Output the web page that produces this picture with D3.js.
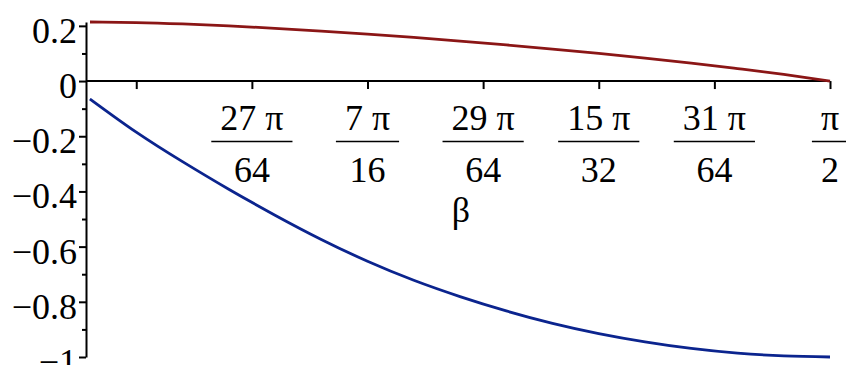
<!DOCTYPE html>
<html>
<head>
<meta charset="utf-8">
<script src="https://cdn.jsdelivr.net/npm/d3@7"></script>
<style>
  body { margin: 0; background: #fff; }
  svg { display: block; }
  svg text { font-family: "Liberation Serif", "Times New Roman", Times, serif; fill: #000; }
</style>
</head>
<body>
<script>
// beta, in units of pi/64 (from 2pi/5 up to pi/2)
const betaSteps = [25.6, 26.0, 26.4, 26.8, 27.2, 27.6, 28.0, 28.4, 28.8,
                   29.2, 29.6, 30.0, 30.4, 30.8, 31.2, 31.6, 32.0];
// upper curve (dark red)
const redValues = [0.214, 0.212, 0.207, 0.200, 0.191, 0.181, 0.170, 0.158, 0.145,
                   0.131, 0.116, 0.100, 0.083, 0.065, 0.045, 0.024, 0.0];
// lower curve (dark blue)
const blueValues = [-0.065, -0.185, -0.292, -0.392, -0.486, -0.574, -0.653, -0.722, -0.781,
                    -0.833, -0.878, -0.915, -0.945, -0.969, -0.986, -0.996, -1.0];

const yTicks = [-1, -0.8, -0.6, -0.4, -0.2, 0, 0.2];
const yMinorTicks = [-0.9, -0.7, -0.5, -0.3, -0.1, 0.1];
const xTickSteps = [26, 27, 28, 29, 30, 31, 32];
// [numerator, denominator], null = no label
const xTickLabels = [null, ["27 π", "64"], ["7 π", "16"], ["29 π", "64"],
                     ["15 π", "32"], ["31 π", "64"], ["π", "2"]];
const xTitle = "β";

const width = 846;
const height = 365;
const fontSize = 36;
const serif = "'Liberation Serif', 'Times New Roman', Times, serif";

const svg = d3.select("body").append("svg")
    .attr("width", width)
    .attr("height", height);

const x = d3.scaleLinear()
    .domain([betaSteps[0] * Math.PI / 64, Math.PI / 2])
    .range([90, 830]);

const y = d3.scaleLinear()
    .domain([-1, d3.max(redValues)])
    .range([357, 22]);

const axisX = 86;   // maple puts the vertical axis a bit left of the first sample
const y0 = y(0);

// y axis, major + minor ticks
const yAxis = svg.append("g")
    .attr("transform", `translate(${axisX},0)`)
    .call(d3.axisLeft(y)
        .tickValues(yTicks)
        .tickSize(7)
        .tickSizeOuter(0)
        .tickPadding(2)
        .tickFormat(d => d === 0 ? "0" : d3.format(".1~f")(d).replace("-", "−")));

yAxis.attr("font-family", serif);
yAxis.select(".domain").attr("stroke-width", 2);
yAxis.selectAll(".tick line").attr("stroke-width", 2);
yAxis.selectAll(".tick text")
    .attr("font-size", fontSize)
    .style("font-family", serif)
    .attr("dy", "0.46em");

const yMinor = svg.append("g")
    .attr("transform", `translate(${axisX},0)`)
    .call(d3.axisLeft(y).tickValues(yMinorTicks).tickSize(4).tickFormat(""));
yMinor.select(".domain").remove();
yMinor.selectAll(".tick line").attr("stroke-width", 2);

// x axis along y = 0
const xAxis = svg.append("g")
    .attr("transform", `translate(0,${y0})`)
    .call(d3.axisBottom(x)
        .tickValues(xTickSteps.map(k => k * Math.PI / 64))
        .tickSize(8)
        .tickSizeOuter(0)
        .tickFormat(""));
xAxis.select(".domain").attr("d", `M${axisX},0H${x(Math.PI / 2)}`).attr("stroke-width", 2);
xAxis.selectAll(".tick line").attr("stroke-width", 2);

// fraction labels
xTickSteps.forEach((k, i) => {
    const lab = xTickLabels[i];
    if (!lab) return;
    const cx = x(k * Math.PI / 64);
    const g = svg.append("g").attr("transform", `translate(${cx},0)`);
    const num = g.append("text")
        .attr("text-anchor", "middle")
        .attr("y", 130)
        .attr("font-size", fontSize)
        .style("font-family", serif)
        .text(lab[0]);
    const den = g.append("text")
        .attr("text-anchor", "middle")
        .attr("y", 182)
        .attr("font-size", fontSize)
        .style("font-family", serif)
        .text(lab[1]);
    const w = Math.max(num.node().getComputedTextLength(), den.node().getComputedTextLength()) + 18;
    g.append("line")
        .attr("x1", -w / 2).attr("x2", w / 2)
        .attr("y1", 141.5).attr("y2", 141.5)
        .attr("stroke", "#000")
        .attr("stroke-width", 1.3);
});

svg.append("text")
    .attr("x", (axisX + x(Math.PI / 2)) / 2 + 3)
    .attr("y", 222)
    .attr("text-anchor", "middle")
    .attr("font-size", fontSize)
    .style("font-family", serif)
    .text(xTitle);

// curves
const line = d3.line()
    .x(d => x(d.b * Math.PI / 64))
    .y(d => y(d.v))
    .curve(d3.curveNatural);

const series = [
    { values: redValues, color: "#8b1616" },
    { values: blueValues, color: "#0b248e" }
];

svg.selectAll(".curve")
    .data(series)
    .join("path")
    .attr("class", "curve")
    .attr("fill", "none")
    .attr("stroke", d => d.color)
    .attr("stroke-width", 2.8)
    .attr("d", d => line(betaSteps.map((b, i) => ({ b: b, v: d.values[i] }))));
</script>
</body>
</html>
